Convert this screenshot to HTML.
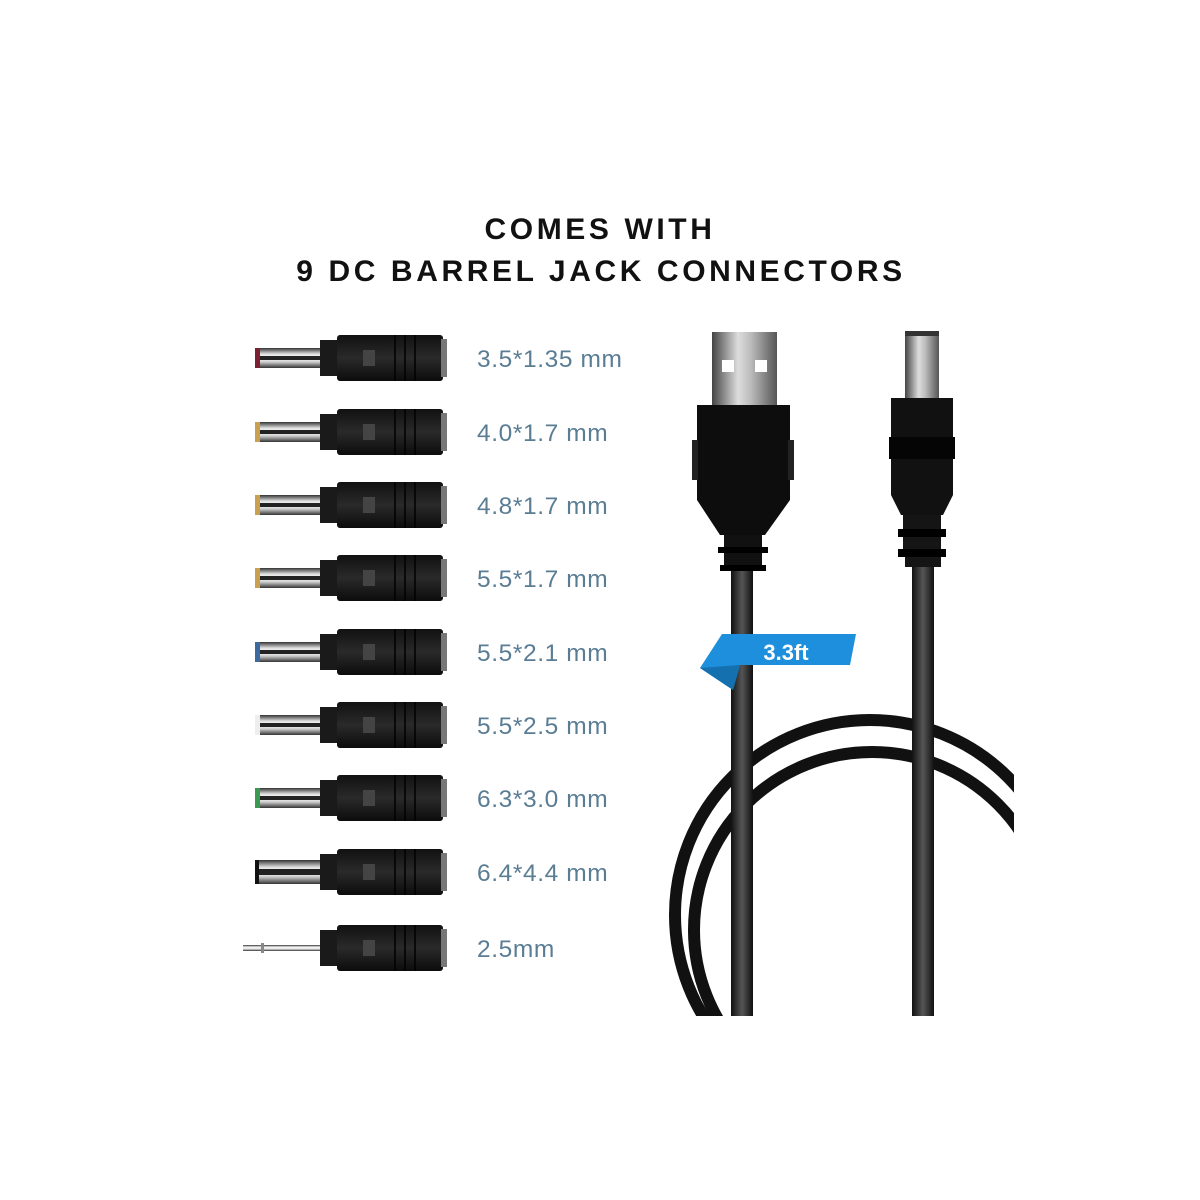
<!DOCTYPE html>
<html><head><meta charset="utf-8"><style>
html,body{margin:0;padding:0;background:#fff;}
svg{display:block;}
</style></head><body>
<svg width="1200" height="1200" viewBox="0 0 1200 1200" xmlns="http://www.w3.org/2000/svg">
<defs>
<linearGradient id="pin" x1="0" y1="0" x2="0" y2="1">
<stop offset="0" stop-color="#333"/><stop offset="0.3" stop-color="#ddd"/><stop offset="0.5" stop-color="#fff"/><stop offset="0.7" stop-color="#ccc"/><stop offset="1" stop-color="#333"/>
</linearGradient>
<linearGradient id="bodyg" x1="0" y1="0" x2="0" y2="1">
<stop offset="0" stop-color="#111"/><stop offset="0.5" stop-color="#2a2a2a"/><stop offset="1" stop-color="#0c0c0c"/>
</linearGradient>
<linearGradient id="metalv" x1="0" y1="0" x2="1" y2="0">
<stop offset="0" stop-color="#444"/><stop offset="0.4" stop-color="#ddd"/><stop offset="0.6" stop-color="#bbb"/><stop offset="1" stop-color="#555"/>
</linearGradient>
<linearGradient id="cab" x1="0" y1="0" x2="1" y2="0">
<stop offset="0" stop-color="#111"/><stop offset="0.5" stop-color="#555"/><stop offset="1" stop-color="#111"/>
</linearGradient>
<g id="body">
<rect x="65" y="-18" width="20" height="36" fill="#1a1a1a"/>
<rect x="82" y="-23" width="106" height="46" rx="3" fill="url(#bodyg)"/>
<rect x="186" y="-19" width="6" height="38" fill="#777"/>
<line x1="140" y1="-23" x2="140" y2="23" stroke="#000" stroke-width="1.5"/>
<line x1="150" y1="-23" x2="150" y2="23" stroke="#000" stroke-width="1.5"/>
<line x1="160" y1="-23" x2="160" y2="23" stroke="#000" stroke-width="1.5"/>
<rect x="108" y="-8" width="12" height="16" fill="#444"/>
</g>
<g id="pinn">
<rect x="0" y="-10" width="68" height="20" fill="url(#pin)"/>
<line x1="4" y1="0" x2="68" y2="0" stroke="#222" stroke-width="4"/>
</g>
</defs>

<text x="600" y="239" text-anchor="middle" font-family="Liberation Sans, sans-serif" font-weight="bold" font-size="30" letter-spacing="3.6" fill="#111">COMES WITH</text>
<text x="601" y="281" text-anchor="middle" font-family="Liberation Sans, sans-serif" font-weight="bold" font-size="30" letter-spacing="3.6" fill="#111">9 DC BARREL JACK CONNECTORS</text>

<g font-family="Liberation Sans, sans-serif" font-size="24.5" letter-spacing="0.6" fill="#5a7d94">
<g transform="translate(255,358)"><use href="#pinn"/><rect x="0" y="-10" width="5" height="20" fill="#7a2030"/><use href="#body"/></g>
<text x="477" y="367">3.5*1.35 mm</text>
<g transform="translate(255,432)"><use href="#pinn"/><rect x="0" y="-10" width="5" height="20" fill="#c9a050"/><use href="#body"/></g>
<text x="477" y="441">4.0*1.7 mm</text>
<g transform="translate(255,505)"><use href="#pinn"/><rect x="0" y="-10" width="5" height="20" fill="#c9a050"/><use href="#body"/></g>
<text x="477" y="514">4.8*1.7 mm</text>
<g transform="translate(255,578)"><use href="#pinn"/><rect x="0" y="-10" width="5" height="20" fill="#c9a050"/><use href="#body"/></g>
<text x="477" y="587">5.5*1.7 mm</text>
<g transform="translate(255,652)"><use href="#pinn"/><rect x="0" y="-10" width="5" height="20" fill="#3a6aa0"/><use href="#body"/></g>
<text x="477" y="661">5.5*2.1 mm</text>
<g transform="translate(255,725)"><use href="#pinn"/><rect x="0" y="-10" width="5" height="20" fill="#eee"/><use href="#body"/></g>
<text x="477" y="734">5.5*2.5 mm</text>
<g transform="translate(255,798)"><use href="#pinn"/><rect x="0" y="-10" width="5" height="20" fill="#3a9a50"/><use href="#body"/></g>
<text x="477" y="807">6.3*3.0 mm</text>
<g transform="translate(255,872)"><rect x="0" y="-12" width="68" height="24" fill="url(#pin)"/><line x1="4" y1="0" x2="68" y2="0" stroke="#222" stroke-width="6"/><rect x="0" y="-12" width="4" height="24" fill="#111"/><use href="#body"/></g>
<text x="477" y="881">6.4*4.4 mm</text>
<g transform="translate(255,948)"><rect x="-12" y="-3" width="80" height="6" fill="url(#pin)"/><rect x="6" y="-5" width="3" height="10" fill="#888"/><use href="#body"/></g>
<text x="477" y="957">2.5mm</text>
</g>

<!-- loops -->
<circle cx="870" cy="915" r="195" fill="none" stroke="#111" stroke-width="12"/>
<circle cx="872" cy="930" r="178" fill="none" stroke="#111" stroke-width="12"/>
<rect x="600" y="1016" width="500" height="200" fill="#fff"/>
<rect x="1014" y="600" width="200" height="500" fill="#fff"/>

<!-- cables -->
<rect x="731" y="570" width="22" height="446" fill="url(#cab)"/>
<rect x="912" y="565" width="22" height="451" fill="url(#cab)"/>

<!-- USB -->
<rect x="712" y="332" width="65" height="74" fill="url(#metalv)"/>
<rect x="722" y="360" width="12" height="12" fill="#fff"/>
<rect x="755" y="360" width="12" height="12" fill="#fff"/>
<path d="M697 405 H790 V500 L765 535 H720 L697 500 Z" fill="#0d0d0d"/>
<rect x="692" y="440" width="6" height="40" fill="#222"/><rect x="788" y="440" width="6" height="40" fill="#222"/>
<rect x="724" y="535" width="38" height="12" fill="#111"/>
<rect x="718" y="547" width="50" height="6" fill="#000"/>
<rect x="724" y="553" width="38" height="12" fill="#111"/>
<rect x="720" y="565" width="46" height="6" fill="#000"/>

<!-- DC plug -->
<rect x="905" y="331" width="34" height="68" fill="url(#metalv)"/>
<rect x="905" y="331" width="34" height="5" fill="#333"/>
<path d="M891 398 H953 V495 L943 515 H901 L891 495 Z" fill="#111"/>
<rect x="889" y="437" width="66" height="22" fill="#050505"/>
<rect x="903" y="515" width="38" height="14" fill="#151515"/>
<rect x="898" y="529" width="48" height="8" fill="#000"/>
<rect x="903" y="537" width="38" height="12" fill="#151515"/>
<rect x="898" y="549" width="48" height="8" fill="#000"/>
<rect x="905" y="557" width="36" height="10" fill="#151515"/>

<!-- badge -->
<path d="M722 634 H856 L850 665 H740 L733 690 L700 668 Z" fill="#1e8fdc"/>
<path d="M700 668 L740 665 L733 690 Z" fill="#1570b0"/>
<text x="786" y="660" text-anchor="middle" font-family="Liberation Sans, sans-serif" font-weight="bold" font-size="22" fill="#fff">3.3ft</text>
</svg>
</body></html>
